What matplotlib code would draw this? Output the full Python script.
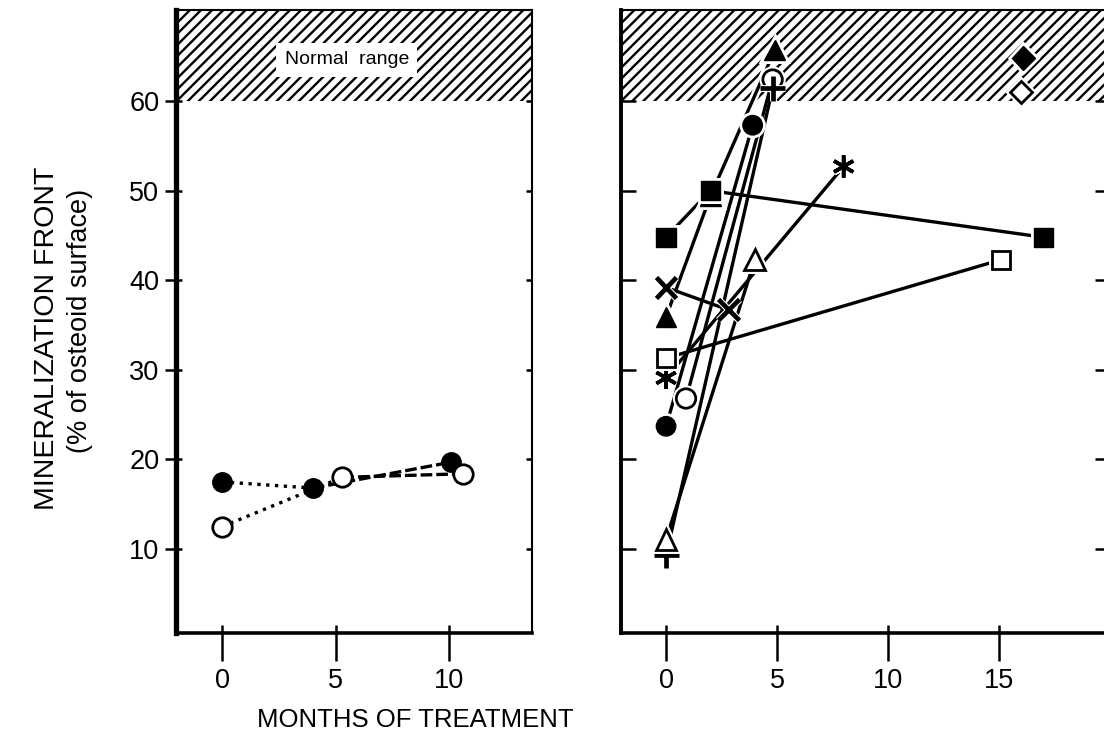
import matplotlib.pyplot as plt
import matplotlib.patheffects as pe
from matplotlib.ticker import FixedLocator

plt.rcParams['font.family'] = ['Liberation Sans', 'DejaVu Sans']
plt.rcParams['hatch.linewidth'] = 1.7
plt.rcParams['hatch.color'] = 'black'

# left panel: two patients, dotted first interval then dashed
left_filled_x = [0, 4.0, 10.1]
left_filled_y = [17.5, 16.8, 19.7]
left_open_x = [0, 5.3, 10.6]
left_open_y = [12.5, 18.0, 18.4]

# right panel: one series per patient
sq_fill_x, sq_fill_y = [0, 2.0, 17.0], [44.8, 50.0, 44.8]
sq_open_x, sq_open_y = [0, 15.1], [31.3, 42.3]
tri_fill_x, tri_fill_y = [0, 2.0, 4.9], [35.9, 49.4, 65.7]
tri_open_x, tri_open_y = [0, 4.0], [11.1, 42.3]
cross_x, cross_y = [0, 2.8], [39.2, 36.7]
star_x, star_y = [0, 8.0], [29.1, 52.7]
circ_fill_x, circ_fill_y = [0, 3.9], [23.7, 57.3]
circ_open_x, circ_open_y = [0.9, 4.8], [26.8, 62.4]
plus_x, plus_y = [0, 4.8], [9.3, 61.4]
dia_fill_x, dia_fill_y = [16.1], [64.8]
dia_open_x, dia_open_y = [16.0], [61.0]

yticks = [10, 20, 30, 40, 50, 60]
left_xticks = [0, 5, 10]
right_xticks = [0, 5, 10, 15]
normal_low = 60

W, H = 1104, 749
fig = plt.figure(figsize=(W / 100, H / 100), dpi=100)


def box(x0, x1, ytop, ybot):
    return [x0 / W, 1 - ybot / H, (x1 - x0) / W, (ybot - ytop) / H]


ax1 = fig.add_axes(box(176, 532, 10, 633))
ax2 = fig.add_axes(box(621, 1110, 10, 633))
ax1.set_xlim(-2.03, 13.66)
ax2.set_xlim(-2.03, 20.0)

for ax in (ax1, ax2):
    ax.set_ylim(0.63, 70.16)
    ax.axhspan(normal_low, 80, facecolor='white', edgecolor='black',
               hatch='///', linewidth=0, zorder=0)
    ax.spines['top'].set_linewidth(1.5)
    ax.spines['right'].set_linewidth(1.5)
    ax.spines['bottom'].set_linewidth(2.6)
    ax.set_yticks(yticks)
    # long ticks below the axis, short ones above it
    ax.xaxis.remove_overlapping_locs = False
    ax.tick_params(axis='x', which='major', direction='out', length=20,
                   width=1.8, pad=5, labelsize=19.5)
    ax.tick_params(axis='x', which='minor', direction='in', length=6, width=1.8)

ax1.spines['left'].set_linewidth(3.8)
ax2.spines['left'].set_linewidth(2.8)

ax1.set_xticks(left_xticks)
ax1.xaxis.set_minor_locator(FixedLocator(left_xticks))
ax2.set_xticks(right_xticks)
ax2.xaxis.set_minor_locator(FixedLocator(right_xticks))

ax1.yaxis.remove_overlapping_locs = False
ax1.yaxis.set_minor_locator(FixedLocator(yticks))
ax1.tick_params(axis='y', which='major', direction='out', length=8, width=1.8,
                left=True, right=False, pad=4, labelsize=19.5)
ax1.tick_params(axis='y', which='minor', direction='in', length=4, width=1.8,
                left=True, right=True)
ax2.tick_params(axis='y', which='major', direction='in', length=11, width=1.8,
                left=True, right=True, labelleft=False)

# left panel
ax1.plot(left_filled_x[:2], left_filled_y[:2], ls=':', color='black', lw=2.4, zorder=2)
ax1.plot(left_open_x[:2], left_open_y[:2], ls=':', color='black', lw=2.4, zorder=2)
ax1.plot(left_filled_x[1:], left_filled_y[1:], color='black', lw=2.4,
         dashes=(3.5, 1.2), zorder=2)
ax1.plot(left_open_x[1:], left_open_y[1:], color='black', lw=2.4,
         dashes=(3.5, 1.2), zorder=2)
ax1.plot(left_filled_x, left_filled_y, ls='none', marker='o', ms=14,
         mfc='black', mec='black', zorder=3)
ax1.plot(left_open_x, left_open_y, ls='none', marker='o', ms=14,
         mfc='white', mec='black', mew=2, zorder=3)

ax1.text(5.5, 64.6, 'Normal  range', fontsize=14, ha='center', va='center',
         bbox=dict(facecolor='white', edgecolor='none', pad=6), zorder=4)

# right panel
halo = [pe.withStroke(linewidth=5, foreground='white')]
series = [
    (circ_open_x, circ_open_y, dict(marker='o', ms=14, mfc='white', mew=2)),
    (plus_x, plus_y, dict(marker='+', ms=18, mew=3.4)),
    (tri_open_x, tri_open_y, dict(marker='^', ms=15, mfc='white', mew=2)),
    (circ_fill_x, circ_fill_y, dict(marker='o', ms=14, mfc='black')),
    (star_x, star_y, dict(marker=(6, 2, 0), ms=16, mew=2.6)),
    (cross_x, cross_y, dict(marker='x', ms=15, mew=3.4)),
    (sq_open_x, sq_open_y, dict(marker='s', ms=13, mfc='white', mew=2)),
    (tri_fill_x, tri_fill_y, dict(marker='^', ms=15, mfc='black')),
    (sq_fill_x, sq_fill_y, dict(marker='s', ms=14, mfc='black')),
    (dia_fill_x, dia_fill_y, dict(marker='D', ms=12, mfc='black')),
    (dia_open_x, dia_open_y, dict(marker='D', ms=11, mfc='white', mew=2)),
]

for xs, ys, _ in series:
    if len(xs) > 1:
        ax2.plot(xs, ys, color='white', lw=6, solid_capstyle='butt', zorder=1.5)
        ax2.plot(xs, ys, color='black', lw=2.4, solid_capstyle='butt', zorder=2)

for i, (xs, ys, style) in enumerate(series):
    ax2.plot(xs, ys, ls='none', mec='black', path_effects=halo,
             zorder=3 + i * 0.01, **style)

fig.text(47 / W, 1 - 338 / H, 'MINERALIZATION FRONT', rotation=90,
         ha='center', va='center', fontsize=20.5)
fig.text(80 / W, 1 - 321 / H, '(% of osteoid surface)', rotation=90,
         ha='center', va='center', fontsize=19.5)
fig.text(415 / W, 1 - 720 / H, 'MONTHS OF TREATMENT', ha='center',
         va='center', fontsize=18.5)

fig.savefig('out.png', dpi=100)
